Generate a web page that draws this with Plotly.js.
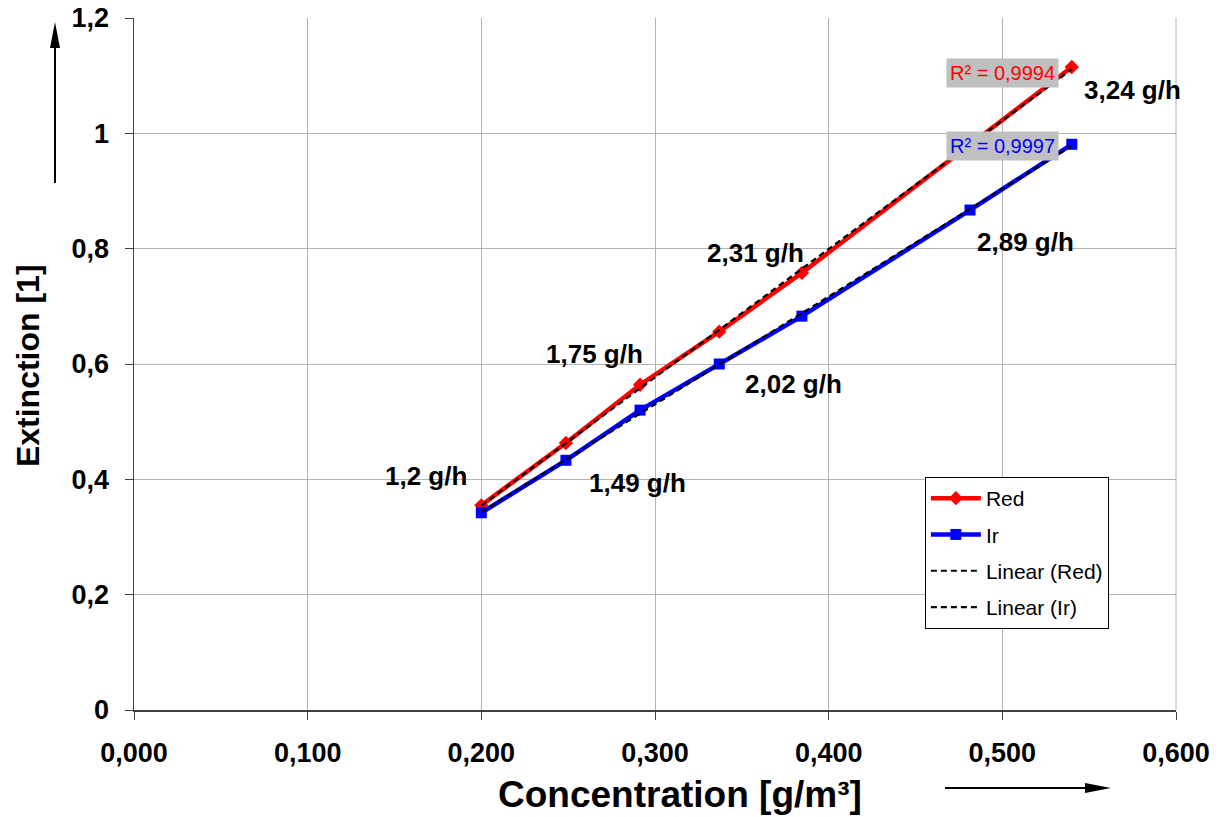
<!DOCTYPE html>
<html>
<head>
<meta charset="utf-8">
<script src="https://cdn.plot.ly/plotly-3.0.1.min.js"></script>
<style>html,body{margin:0;padding:0;background:#fff;}#chart{width:1218px;height:817px;}</style>
</head>
<body>
<div id="chart"></div>
<script>
// Data
const redX = [0.200, 0.2487, 0.2914, 0.337, 0.3846, 0.4814, 0.540];
const redY = [0.355, 0.463, 0.564, 0.656, 0.758, 0.980, 1.115];
const irX  = [0.200, 0.2487, 0.2914, 0.337, 0.3846, 0.4814, 0.540];
const irY  = [0.342, 0.433, 0.520, 0.600, 0.683, 0.867, 0.981];
const flowLabels = ["1,2 g/h", "1,49 g/h", "1,75 g/h", "2,02 g/h", "2,31 g/h", "2,89 g/h", "3,24 g/h"];
const flowLabelX = [0.1681, 0.2902, 0.2649, 0.3795, 0.3576, 0.5136, 0.5752];
const flowLabelY = [0.405, 0.393, 0.618, 0.565, 0.792, 0.811, 1.076];
const r2Labels = ["R² = 0,9994", "R² = 0,9997"];
const r2X = [0.500, 0.500];
const r2Y = [1.1046, 0.978];
const legendNames = ["Red", "Ir", "Linear (Red)", "Linear (Ir)"];
const xTitle = "Concentration [g/m³]";
const yTitle = "Extinction [1]";

function fit(xs, ys) {
  const n = xs.length;
  let sx = 0, sy = 0, sxx = 0, sxy = 0;
  for (let i = 0; i < n; i++) { sx += xs[i]; sy += ys[i]; sxx += xs[i]*xs[i]; sxy += xs[i]*ys[i]; }
  const m = (n*sxy - sx*sy) / (n*sxx - sx*sx);
  const b = (sy - m*sx) / n;
  const x0 = Math.min(...xs), x1 = Math.max(...xs);
  return {x: [x0, x1], y: [m*x0 + b, m*x1 + b]};
}
const fr = fit(redX, redY), fi = fit(irX, irY);

const FONT = "Liberation Sans, Arial, sans-serif";
const traces = [
  {x: redX, y: redY, name: legendNames[0], legendgroup: "a", mode: "lines+markers", line: {color: "#ff0000", width: 4.5}, marker: {symbol: "diamond", size: 11, color: "#ff0000"}},
  {x: irX, y: irY, name: legendNames[1], legendgroup: "b", mode: "lines+markers", line: {color: "#0000ff", width: 4.5}, marker: {symbol: "square", size: 11, color: "#0000ff"}},
  {x: fr.x, y: fr.y, name: legendNames[2], legendgroup: "c", mode: "lines", line: {color: "#000000", width: 2.2, dash: "6px,4px"}},
  {x: fi.x, y: fi.y, name: legendNames[3], legendgroup: "d", mode: "lines", line: {color: "#000000", width: 2.2, dash: "6px,4px"}}
];

const annotations = [];
for (let i = 0; i < flowLabels.length; i++) {
  annotations.push({x: flowLabelX[i], y: flowLabelY[i], xref: "x", yref: "y", text: "<b>" + flowLabels[i] + "</b>", showarrow: false, font: {family: FONT, size: 26, color: "#000"}});
}
annotations.push({x: r2X[0], y: r2Y[0], xref: "x", yref: "y", text: r2Labels[0], showarrow: false, bgcolor: "#c0c0c0", borderpad: 3, font: {family: FONT, size: 20, color: "#ff0000"}});
annotations.push({x: r2X[1], y: r2Y[1], xref: "x", yref: "y", text: r2Labels[1], showarrow: false, bgcolor: "#c0c0c0", borderpad: 3, font: {family: FONT, size: 20, color: "#0000ff"}});
// axis titles
annotations.push({x: 0.524, y: -0.1228, xref: "paper", yref: "paper", xanchor: "center", yanchor: "middle", text: "<b>" + xTitle + "</b>", showarrow: false, font: {family: FONT, size: 37, color: "#000"}});
annotations.push({x: -0.1017, y: 0.497, xref: "paper", yref: "paper", xanchor: "center", yanchor: "middle", textangle: -90, text: "<b>" + yTitle + "</b>", showarrow: false, font: {family: FONT, size: 32, color: "#000"}});

const layout = {
  width: 1218, height: 817,
  margin: {l: 134, r: 42, t: 18, b: 107},
  paper_bgcolor: "#ffffff", plot_bgcolor: "#ffffff",
  separators: ",.",
  showlegend: true,
  legend: {x: 0.759, y: 0.3367, xanchor: "left", yanchor: "top", bgcolor: "#ffffff", bordercolor: "#000000", borderwidth: 1, font: {family: FONT, size: 21, color: "#000"}, tracegroupgap: 6, traceorder: "grouped", itemwidth: 50},
  xaxis: {range: [0, 0.6], dtick: 0.1, tickformat: ".3f", showgrid: true, gridcolor: "#b4b4b4", gridwidth: 1, zeroline: false, showline: true, linecolor: "#404040", linewidth: 1.5, ticks: "outside", ticklen: 8, tickcolor: "#404040", ticklabelstandoff: 10,
    tickfont: {family: FONT, size: 27, color: "#000", weight: "bold"}},
  yaxis: {range: [0, 1.2], dtick: 0.2, showgrid: true, gridcolor: "#b4b4b4", gridwidth: 1, zeroline: false, showline: true, linecolor: "#404040", linewidth: 1.5, ticks: "outside", ticklen: 8, tickcolor: "#404040", ticklabelstandoff: 10,
    tickfont: {family: FONT, size: 27, color: "#000", weight: "bold"}},
  annotations: annotations,
  shapes: [
    {type: "line", xref: "x domain", yref: "y domain", x0: 1, x1: 1, y0: 0, y1: 1, line: {color: "#b4b4b4", width: 1}}
  ]
};

Plotly.newPlot("chart", traces, layout, {displayModeBar: false, staticPlot: true}).then(function(gd) {
  // direction arrows beside the axis titles
  const svgs = gd.querySelectorAll("svg.main-svg");
  const svg = svgs[svgs.length - 1];
  const ns = "http://www.w3.org/2000/svg";
  const g = document.createElementNS(ns, "g");
  function line(x1, y1, x2, y2) {
    const l = document.createElementNS(ns, "line");
    l.setAttribute("x1", x1); l.setAttribute("y1", y1); l.setAttribute("x2", x2); l.setAttribute("y2", y2);
    l.setAttribute("stroke", "#000"); l.setAttribute("stroke-width", "2");
    g.appendChild(l);
  }
  function poly(pts) {
    const p = document.createElementNS(ns, "polygon");
    p.setAttribute("points", pts); p.setAttribute("fill", "#000");
    g.appendChild(p);
  }
  line(55, 183, 55, 40); poly("55,22 50,48 60,48");
  line(945, 788, 1090, 788); poly("1111,788 1085,783 1085,793");
  svg.appendChild(g);
});
</script>
</body>
</html>
